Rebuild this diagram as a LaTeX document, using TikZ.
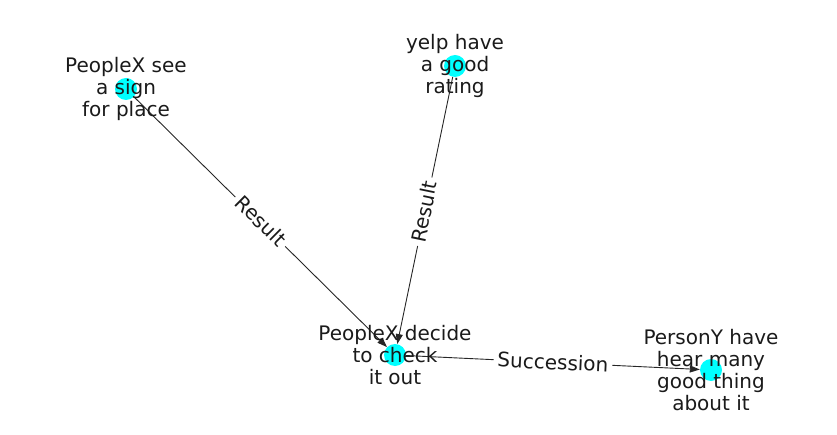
\documentclass[tikz,border=0pt]{standalone}
\usepackage{fontspec}
\setmainfont{DejaVu Sans}
\usetikzlibrary{arrows.meta}
\definecolor{nodecyan}{RGB}{0,255,255}
\definecolor{txt}{RGB}{26,26,26}
\begin{document}
\begin{tikzpicture}[x=1pt,y=1pt,
  dot/.style={circle,fill=nodecyan,draw=none,minimum size=22pt,inner sep=0pt},
  lbl/.style={align=center,font=\fontsize{20}{22.3}\selectfont,text=txt,inner sep=0pt},
  edge/.style={draw=black!85,line width=0.9pt,-{Triangle[length=10pt,width=7pt]}},
  elbl/.style={fill=white,inner sep=4pt,font=\fontsize{20}{22}\selectfont,text=txt}]
\useasboundingbox (0,0) rectangle (837,434);
\node[dot] (a) at (126,345) {};
\node[dot] (b) at (455,368) {};
\node[dot] (c) at (395,79) {};
\node[dot] (d) at (711,64) {};
\draw[edge] (a) -- (c);
\draw[edge] (b) -- (c);
\draw[edge] (c) -- (d);
\node[elbl,rotate=-44.7] (la) at (261,213) {Result};
\node[elbl,rotate=78.3] (lb) at (424,222.5) {Result};
\node[elbl,rotate=-2.7] (lc) at (553,72) {Succession};
\node[lbl] (ta) at (126,345) {PeopleX see\\a sign\\for place};
\node[lbl] (tb) at (455,368) {yelp have\\a good\\rating};
\node[lbl] (tc) at (395,79) {PeopleX decide\\to check\\it out};
\node[lbl] (td) at (711,64) {PersonY have\\hear many\\good thing\\about it};
\end{tikzpicture}
\end{document}
